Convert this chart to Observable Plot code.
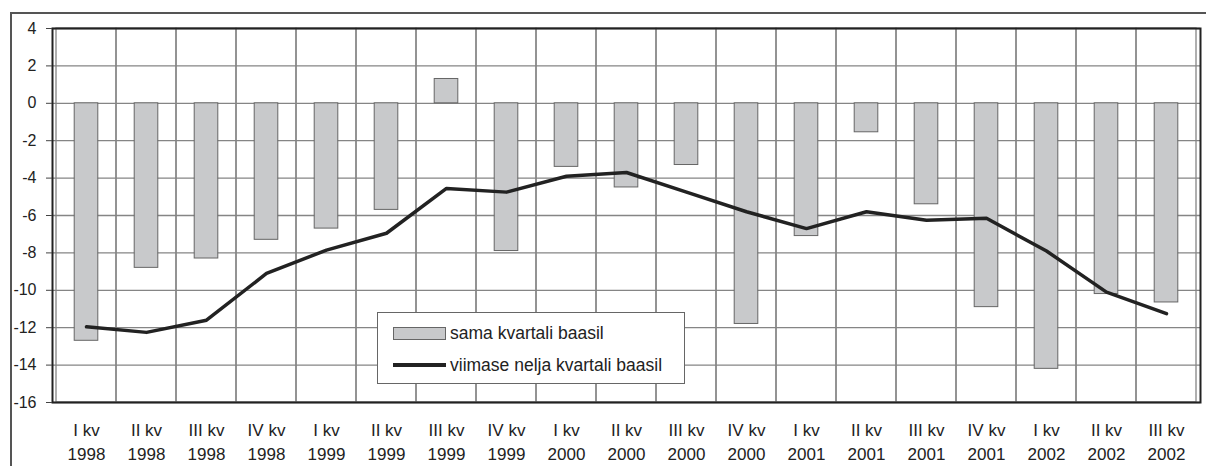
<!DOCTYPE html>
<html>
<head>
<meta charset="utf-8">
<script src="https://cdn.jsdelivr.net/npm/d3@7"></script>
<script src="https://cdn.jsdelivr.net/npm/@observablehq/plot@0.6"></script>
<style>
  html, body { margin: 0; padding: 0; background: #fff; }
  #wrap { position: relative; width: 1206px; height: 466px; overflow: hidden; font-family: "Liberation Sans", Arial, sans-serif; }
  #frame { position: absolute; left: 10px; top: 12px; width: 1200px; height: 470px; border: 2px solid #555; box-sizing: border-box; pointer-events: none; }
  #legend { position: absolute; left: 377px; top: 312px; width: 308px; height: 72px; background: #fff; border: 1px solid #666; box-sizing: border-box; font-size: 17.5px; color: #222; }
  .row { position: absolute; left: 15px; display: flex; align-items: center; height: 20px; }
  .sw { width: 53px; height: 13px; background: #c8c9cb; border: 1px solid #666; box-sizing: border-box; margin-right: 4px; }
  .ln { width: 53px; height: 4px; background: #222; margin-right: 4px; }
  #chart svg g[aria-label="y-axis tick label"] text { font-size: 16px; }
  #chart svg g[aria-label="x-axis tick label"] text { font-size: 17px; }
</style>
</head>
<body>
<div id="wrap">
  <div id="chart"></div>
  <div id="frame"></div>
  <div id="legend">
    <div class="row" style="top:10px"><div class="sw"></div><span>sama kvartali baasil</span></div>
    <div class="row" style="top:42px"><div class="ln"></div><span>viimase nelja kvartali baasil</span></div>
  </div>
</div>
<script>
const quarters = ["I kv","II kv","III kv","IV kv","I kv","II kv","III kv","IV kv","I kv","II kv","III kv","IV kv","I kv","II kv","III kv","IV kv","I kv","II kv","III kv"];
const years = ["1998","1998","1998","1998","1999","1999","1999","1999","2000","2000","2000","2000","2001","2001","2001","2001","2002","2002","2002"];
const samaKvartali = [-12.7,-8.8,-8.3,-7.3,-6.7,-5.7,1.3,-7.9,-3.4,-4.5,-3.3,-11.8,-7.1,-1.55,-5.4,-10.9,-14.2,-10.2,-10.65];
const neljaKvartali = [-11.95,-12.25,-11.6,-9.1,-7.85,-6.95,-4.55,-4.75,-3.9,-3.7,-4.75,-5.8,-6.7,-5.8,-6.25,-6.15,-7.9,-10.1,-11.25];
const yTicks = [4,2,0,-2,-4,-6,-8,-10,-12,-14,-16];

const cats = quarters.map((q, i) => q + "\n" + years[i]);
const data = cats.map((c, i) => ({c, bar: samaKvartali[i], line: neljaKvartali[i]}));

const chart = Plot.plot({
  width: 1206,
  height: 466,
  marginLeft: 52,
  marginTop: 28,
  marginRight: 6,
  marginBottom: 64,
  style: {fontFamily: '"Liberation Sans", Arial, sans-serif', fontSize: "16px", color: "#222", background: "white"},
  x: {domain: cats, padding: 0},
  y: {domain: [-16, 4], ticks: yTicks},
  marks: [
    Plot.ruleY(yTicks, {stroke: "#858585", strokeWidth: 1.3}),
    Plot.barY(cats, {x: d => d, y1: -16, y2: 4, fill: "none", stroke: "#858585", strokeWidth: 1.3}),
    Plot.barY(data, {x: "c", y: "bar", fill: "#c8c9cb", stroke: "#666", strokeWidth: 1, insetLeft: 18.2, insetRight: 18.2}),
    Plot.line(data, {x: "c", y: "line", stroke: "#222", strokeWidth: 3.5, strokeLinejoin: "round"}),
    Plot.frame({stroke: "#222", strokeWidth: 2}),
    Plot.axisY({ticks: yTicks, tickSize: 6, tickPadding: 10, tickFormat: d => String(d), label: null, stroke: "#444", fill: "#222"}),
    Plot.axisX({tickSize: 0, tickPadding: 17, label: null, lineHeight: 1.38, fill: "#222"})
  ]
});
document.getElementById("chart").appendChild(chart);
</script>
</body>
</html>
